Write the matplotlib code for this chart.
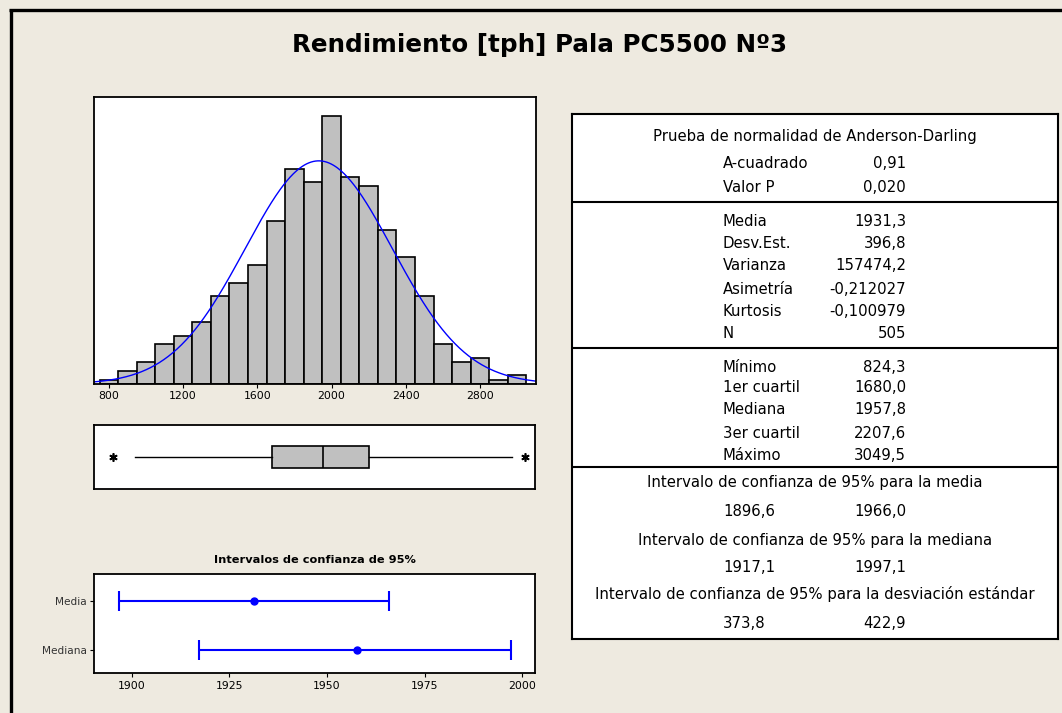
import matplotlib.pyplot as plt
import numpy as np
from matplotlib.lines import Line2D

# histogram counts (bins of width 100 centred on 800..3000)
bin_centers = [800, 900, 1000, 1100, 1200, 1300, 1400, 1500, 1600, 1700, 1800, 1900,
               2000, 2100, 2200, 2300, 2400, 2500, 2600, 2700, 2800, 2900, 3000]
bin_counts = [1, 3, 5, 9, 11, 14, 20, 23, 27, 37, 49, 46,
              61, 47, 45, 35, 29, 20, 9, 5, 6, 1, 2]
hist_ticks = [800, 1200, 1600, 2000, 2400, 2800]

n_obs = 505
mean_val = 1931.3
sd_val = 396.8
q1_val = 1680.0
median_val = 1957.8
q3_val = 2207.6
whisker_lo = 939.0
whisker_hi = 2980.0
outliers = [824.3, 3049.5]

ci_labels = ["Media", "Mediana"]
ci_centers = [1931.3, 1957.8]
ci_low = [1896.6, 1917.1]
ci_high = [1966.0, 1997.1]
ci_ticks = [1900, 1925, 1950, 1975, 2000]

ad_labels = ["A-cuadrado", "Valor P"]
ad_values = ["0,91", "0,020"]
desc_labels = ["Media", "Desv.Est.", "Varianza", "Asimetría", "Kurtosis", "N"]
desc_values = ["1931,3", "396,8", "157474,2", "-0,212027", "-0,100979", "505"]
quart_labels = ["Mínimo", "1er cuartil", "Mediana", "3er cuartil", "Máximo"]
quart_values = ["824,3", "1680,0", "1957,8", "2207,6", "3049,5"]
ci_titles = ["Intervalo de confianza de 95% para la media",
             "Intervalo de confianza de 95% para la mediana",
             "Intervalo de confianza de 95% para la desviación estándar"]
ci_pairs = [("1896,6", "1966,0"), ("1917,1", "1997,1"), ("373,8", "422,9")]

W, H = 1062, 713
BG = '#EEEAE0'
plt.rcParams['font.family'] = ['DejaVu Sans']

fig = plt.figure(figsize=(W / 100, H / 100), dpi=100, facecolor=BG)


def px_axes(x0, y0, x1, y1):
    return fig.add_axes([x0 / W, 1 - y1 / H, (x1 - x0) / W, (y1 - y0) / H])


def frame(ax, lw=1.3):
    for s in ax.spines.values():
        s.set_linewidth(lw)
        s.set_color('black')


# outer frame lines (top and left)
fig.add_artist(Line2D([9 / W, 1], [1 - 10 / H, 1 - 10 / H], color='black', lw=2.4,
                      transform=fig.transFigure, solid_capstyle='butt'))
fig.add_artist(Line2D([11 / W, 11 / W], [0, 1 - 9 / H], color='black', lw=2.4,
                      transform=fig.transFigure, solid_capstyle='butt'))

fig.text(540 / W, 1 - 45 / H, "Rendimiento [tph] Pala PC5500 Nº3", ha='center', va='center',
         fontsize=17.7, fontweight='bold')

xlim_main = (720, 3102)

# histogram
ax_h = px_axes(94, 97, 536, 384)
ax_h.bar(bin_centers, bin_counts, width=100, color='#C0C0C0', edgecolor='black', linewidth=1.2)
xs = np.linspace(xlim_main[0], xlim_main[1], 400)
ax_h.plot(xs, n_obs * 100 / (sd_val * np.sqrt(2 * np.pi)) * np.exp(-0.5 * ((xs - mean_val) / sd_val) ** 2),
          color='blue', lw=1.0)
ax_h.set_xlim(xlim_main)
ax_h.set_ylim(0, 65.3)
ax_h.set_yticks([])
ax_h.set_xticks(hist_ticks)
ax_h.tick_params(axis='x', labelsize=7.8, length=3, pad=2)
frame(ax_h)

# boxplot
ax_b = px_axes(94, 425, 535, 489)
stats = [dict(med=median_val, q1=q1_val, q3=q3_val, whislo=whisker_lo, whishi=whisker_hi,
              fliers=outliers)]
ax_b.bxp(stats, positions=[1], widths=0.7, orientation='horizontal', patch_artist=True,
         showcaps=False,
         boxprops=dict(facecolor='#C0C0C0', edgecolor='black', linewidth=1.2),
         medianprops=dict(color='black', linewidth=1.2),
         whiskerprops=dict(color='black', linewidth=1.0),
         flierprops=dict(marker=(6, 2, 0), markersize=6, markeredgecolor='black', markeredgewidth=1.2))
ax_b.set_xlim(xlim_main)
ax_b.set_ylim(0, 2)
ax_b.set_xticks([])
ax_b.set_yticks([])
frame(ax_b)

# confidence interval plot
ax_c = px_axes(94, 574, 535, 673)
ypos = [1, 0]
for yv, c, lo, hi in zip(ypos, ci_centers, ci_low, ci_high):
    ax_c.errorbar([c], [yv], xerr=[[c - lo], [hi - c]], fmt='o', color='blue', ms=5,
                  lw=1.5, capsize=7, capthick=1.5)
ax_c.set_xlim(1890.3, 2003.3)
ax_c.set_ylim(-0.47, 1.54)
ax_c.set_xticks(ci_ticks)
ax_c.set_yticks(ypos)
ax_c.set_yticklabels(ci_labels)
ax_c.tick_params(axis='x', labelsize=7.8, length=3, pad=3)
ax_c.tick_params(axis='y', labelsize=7.6, length=3, pad=2, labelcolor='#333333')
frame(ax_c)
ax_c.set_title("Intervalos de confianza de 95%", fontsize=8.2, fontweight='bold', pad=8)

# statistics table
ax_t = px_axes(572, 114, 1058, 639)
ax_t.set_xlim(572, 1058)
ax_t.set_ylim(639, 114)
ax_t.set_xticks([])
ax_t.set_yticks([])
frame(ax_t, lw=1.5)
fs = 10.7
xl, xr, xc = 723, 906, 815

ax_t.text(xc, 137, "Prueba de normalidad de Anderson-Darling", ha='center', va='center', fontsize=fs)
for lab, val, y in zip(ad_labels, ad_values, [164, 187]):
    ax_t.text(xl, y, lab, ha='left', va='center', fontsize=fs)
    ax_t.text(xr, y, val, ha='right', va='center', fontsize=fs)

for lab, val, y in zip(desc_labels, desc_values, [221, 243, 266, 289, 311, 333]):
    ax_t.text(xl, y, lab, ha='left', va='center', fontsize=fs)
    ax_t.text(xr, y, val, ha='right', va='center', fontsize=fs)

for lab, val, y in zip(quart_labels, quart_values, [367, 387, 410, 433, 455]):
    ax_t.text(xl, y, lab, ha='left', va='center', fontsize=fs)
    ax_t.text(xr, y, val, ha='right', va='center', fontsize=fs)

for title, (a, b), yt, yv in zip(ci_titles, ci_pairs, [483, 540, 594], [512, 567, 624]):
    ax_t.text(xc, yt, title, ha='center', va='center', fontsize=fs)
    ax_t.text(xl, yv, a, ha='left', va='center', fontsize=fs)
    ax_t.text(xr, yv, b, ha='right', va='center', fontsize=fs)

for y in [202, 348, 467]:
    ax_t.plot([572, 1058], [y, y], color='black', lw=1.5)

fig.savefig('out.png', dpi=100, facecolor=BG)
